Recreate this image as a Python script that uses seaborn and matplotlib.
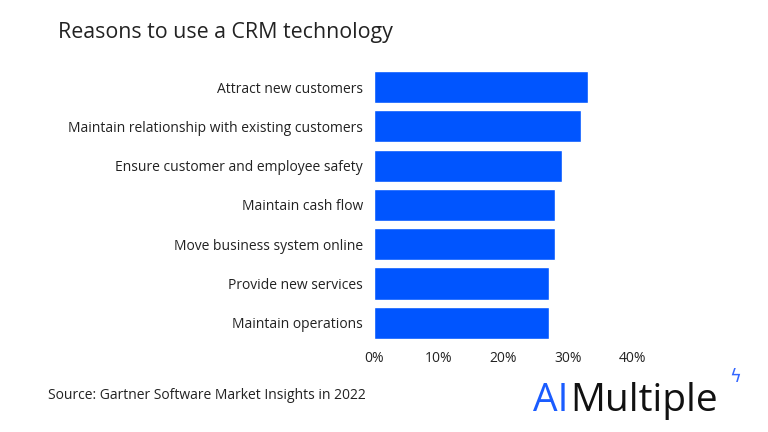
import matplotlib
matplotlib.use("Agg")
import matplotlib.pyplot as plt
import pandas as pd
import seaborn as sns

reasons = [
    "Attract new customers",
    "Maintain relationship with existing customers",
    "Ensure customer and employee safety",
    "Maintain cash flow",
    "Move business system online",
    "Provide new services",
    "Maintain operations",
]
shares = [33, 32, 29, 28, 28, 27, 27]
x_ticks = [0, 10, 20, 30, 40]

df = pd.DataFrame({"reason": reasons, "share": shares})

sns.set_theme(style="white")
plt.rcParams["font.family"] = ["Open Sans", "DejaVu Sans"]

fig = plt.figure(figsize=(7.68, 4.32), dpi=100)
ax = fig.add_axes([0.487, 0.207, 0.824 - 0.487, 0.844 - 0.207])

sns.barplot(data=df, x="share", y="reason", color="#0055FF", saturation=1,
            width=0.82, ax=ax)

ax.set_xlim(0, 40)
ax.set_xticks(x_ticks)
ax.set_xticklabels([f"{t}%" for t in x_ticks], fontsize=10, color="#222222")
ax.tick_params(axis="y", labelsize=10, labelcolor="#222222", pad=8, length=0)
ax.tick_params(axis="x", pad=6, length=0)
ax.set_xlabel("")
ax.set_ylabel("")
sns.despine(ax=ax, left=True, bottom=True)

fig.text(0.075, 0.925, "Reasons to use a CRM technology", fontsize=15.4,
         color="#222222", va="center")
fig.text(0.062, 0.085, "Source: Gartner Software Market Insights in 2022",
         fontsize=10, color="#222222", va="center")

# logo
renderer = fig.canvas.get_renderer()
ai = fig.text(533 / 768, 0.072, "AI", fontsize=28, color="#1a5cff",
              va="center")
bb = ai.get_window_extent(renderer)
fig.text(bb.x1 / 768 + 0.002, 0.072, "Multiple", fontsize=28,
         color="#111111", va="center")
fig.text(0.957, 0.128, "\u03df", fontsize=13, color="#3366ff", va="center",
         ha="center", family=["DejaVu Sans"])

fig.savefig("out.png", dpi=100)
